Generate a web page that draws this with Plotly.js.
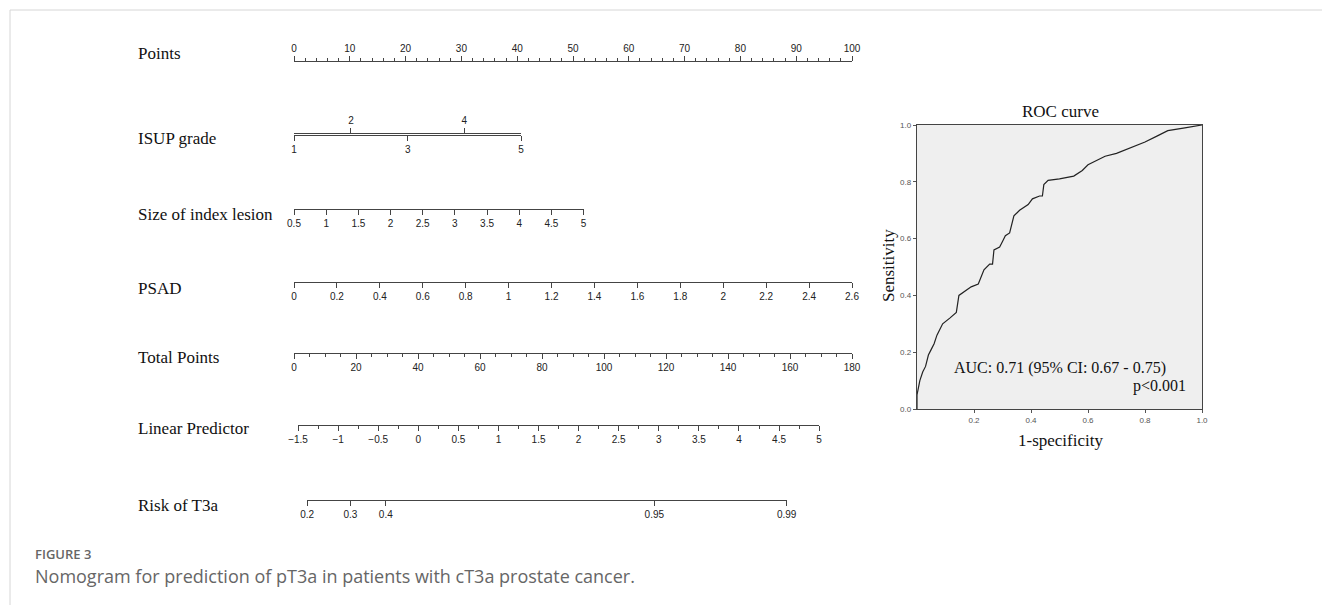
<!DOCTYPE html>
<html><head><meta charset="utf-8">
<script src="https://cdn.plot.ly/plotly-3.0.1.min.js"></script>
<style>html,body{margin:0;padding:0;background:#fff;}#chart{width:1322px;height:605px;}</style>
</head><body><div id="chart"></div>
<script>
// ---------------- data ----------------
const rowLabels = ["Points", "ISUP grade", "Size of index lesion", "PSAD", "Total Points", "Linear Predictor", "Risk of T3a"];
const pointsTicks = [0, 10, 20, 30, 40, 50, 60, 70, 80, 90, 100];
const isupGrades = [1, 2, 3, 4, 5];
const isupPoints = [0, 10.2, 20.4, 30.5, 40.7];
const sizeTicks = [0.5, 1, 1.5, 2, 2.5, 3, 3.5, 4, 4.5, 5];
const sizePointsRange = [0, 51.9];
const psadTicks = [0, 0.2, 0.4, 0.6, 0.8, 1, 1.2, 1.4, 1.6, 1.8, 2, 2.2, 2.4, 2.6];
const psadPointsRange = [0, 100];
const totalTicks = [0, 20, 40, 60, 80, 100, 120, 140, 160, 180];
const lpTicks = [-1.5, -1, -0.5, 0, 0.5, 1, 1.5, 2, 2.5, 3, 3.5, 4, 4.5, 5];
const lpTotalRange = [1.3, 169.4];   // total points at LP = -1.5 and LP = 5
const riskTicks = [0.2, 0.3, 0.4, 0.95, 0.99];
const rocFpr = [0, 0, 0.01, 0.02, 0.03, 0.04, 0.05, 0.06, 0.07, 0.085, 0.09, 0.115, 0.138, 0.147, 0.16, 0.19, 0.215, 0.235, 0.255, 0.265, 0.27, 0.29, 0.30, 0.31, 0.325, 0.34, 0.36, 0.39, 0.405, 0.43, 0.44, 0.445, 0.46, 0.50, 0.55, 0.58, 0.60, 0.62, 0.66, 0.70, 0.75, 0.80, 0.84, 0.88, 0.94, 1.0];
const rocTpr = [0, 0.05, 0.10, 0.13, 0.15, 0.19, 0.21, 0.23, 0.26, 0.29, 0.30, 0.32, 0.34, 0.40, 0.41, 0.43, 0.44, 0.49, 0.51, 0.51, 0.56, 0.57, 0.59, 0.61, 0.62, 0.68, 0.70, 0.72, 0.74, 0.75, 0.75, 0.79, 0.805, 0.81, 0.82, 0.84, 0.86, 0.87, 0.89, 0.90, 0.92, 0.94, 0.96, 0.98, 0.99, 1.0];
const rocTitle = "ROC curve";
const rocXTitle = "1-specificity";
const rocYTitle = "Sensitivity";
const aucText = "AUC: 0.71 (95% CI: 0.67 - 0.75)";
const pText = "p<0.001";
const figLabel = "FIGURE 3";
const figCaption = "Nomogram for prediction of pT3a in patients with cT3a prostate cancer.";

// ---------------- layout helpers ----------------
const W = 1322, H = 605;
const fx = px => px / W;
const fy = py => 1 - py / H;
const P0 = 294, P100 = 852;
const ptPx = p => P0 + p * (P100 - P0) / 100;
const totMax = totalTicks[totalTicks.length - 1];
const totPx = t => P0 + t * (P100 - P0) / totMax;
const lpMin = lpTicks[0], lpMax = lpTicks[lpTicks.length - 1];
const lpPx = v => totPx(lpTotalRange[0] + (v - lpMin) / (lpMax - lpMin) * (lpTotalRange[1] - lpTotalRange[0]));
const logit = p => Math.log(p / (1 - p));
const fmtMinus = v => (v < 0 ? "\u2212" + String(-v) : String(v));

const rowLineY = [62, 135, 209, 282, 353, 425, 500];
const rowLabelY = [54, 139, 215, 288, 357, 428, 505];
const EPS = 0.001;

const axCommon = {
  showline: true, linecolor: '#444', linewidth: 1,
  ticks: 'outside', ticklen: 5, tickwidth: 1, tickcolor: '#444',
  showgrid: false, zeroline: false, fixedrange: true, tickmode: 'array',
  tickfont: {family: 'Liberation Sans, Arial, sans-serif', size: 10, color: '#222'}
};
const yHidden = (py, top) => ({
  domain: top ? [fy(py) - EPS, fy(py)] : [fy(py), fy(py) + EPS],
  range: [0, 1], visible: false, fixedrange: true
});

const layout = {
  width: W, height: H,
  margin: {l: 0, r: 0, t: 0, b: 0},
  paper_bgcolor: '#fff', plot_bgcolor: 'rgba(0,0,0,0)',
  showlegend: false,
  font: {family: 'Liberation Sans, Arial, sans-serif'},
  xaxis: Object.assign({}, axCommon, {
    domain: [fx(ptPx(0)), fx(ptPx(100))], range: [0, 100], side: 'top', anchor: 'y',
    tickvals: pointsTicks, ticktext: pointsTicks.map(String),
    minor: {tickmode: 'linear', tick0: 0, dtick: 2, ticks: 'outside', ticklen: 3, tickcolor: '#444', showgrid: false}
  }),
  yaxis: yHidden(rowLineY[0], true),
  xaxis2: Object.assign({}, axCommon, {
    domain: [fx(ptPx(isupPoints[0])), fx(ptPx(isupPoints[isupPoints.length - 1]))],
    range: [isupPoints[0], isupPoints[isupPoints.length - 1]], side: 'bottom', anchor: 'y2',
    tickvals: isupPoints.filter((v, i) => i % 2 === 0),
    ticktext: isupGrades.filter((v, i) => i % 2 === 0).map(String)
  }),
  xaxis3: Object.assign({}, axCommon, {
    overlaying: 'x2', anchor: 'y2', side: 'top',
    range: [isupPoints[0], isupPoints[isupPoints.length - 1]],
    tickvals: isupPoints.filter((v, i) => i % 2 === 1),
    ticktext: isupGrades.filter((v, i) => i % 2 === 1).map(String)
  }),
  yaxis2: yHidden(rowLineY[1], false),
  xaxis4: Object.assign({}, axCommon, {
    domain: [fx(ptPx(sizePointsRange[0])), fx(ptPx(sizePointsRange[1]))],
    range: [sizeTicks[0], sizeTicks[sizeTicks.length - 1]], anchor: 'y3',
    tickvals: sizeTicks, ticktext: sizeTicks.map(String)
  }),
  yaxis3: yHidden(rowLineY[2], false),
  xaxis5: Object.assign({}, axCommon, {
    domain: [fx(ptPx(psadPointsRange[0])), fx(ptPx(psadPointsRange[1]))],
    range: [psadTicks[0], psadTicks[psadTicks.length - 1]], anchor: 'y4',
    tickvals: psadTicks, ticktext: psadTicks.map(String)
  }),
  yaxis4: yHidden(rowLineY[3], false),
  xaxis6: Object.assign({}, axCommon, {
    domain: [fx(totPx(0)), fx(totPx(totMax))], range: [0, totMax], anchor: 'y5',
    tickvals: totalTicks, ticktext: totalTicks.map(String),
    minor: {tickmode: 'linear', tick0: 0, dtick: 5, ticks: 'outside', ticklen: 3, tickcolor: '#444', showgrid: false}
  }),
  yaxis5: yHidden(rowLineY[4], false),
  xaxis7: Object.assign({}, axCommon, {
    domain: [fx(lpPx(lpMin)), fx(lpPx(lpMax))], range: [lpMin, lpMax], anchor: 'y6',
    tickvals: lpTicks, ticktext: lpTicks.map(fmtMinus),
    minor: {tickmode: 'linear', tick0: lpMin, dtick: 0.25, ticks: 'outside', ticklen: 3, tickcolor: '#444', showgrid: false}
  }),
  yaxis6: yHidden(rowLineY[5], false),
  xaxis8: Object.assign({}, axCommon, {
    domain: [fx(lpPx(logit(riskTicks[0]))), fx(lpPx(logit(riskTicks[riskTicks.length - 1])))],
    range: [logit(riskTicks[0]), logit(riskTicks[riskTicks.length - 1])], anchor: 'y7',
    tickvals: riskTicks.map(logit), ticktext: riskTicks.map(String)
  }),
  yaxis7: yHidden(rowLineY[6], false),
  xaxis9: {
    domain: [fx(917), fx(1202)], range: [0, 1], anchor: 'y8',
    showline: true, mirror: true, linecolor: '#444', linewidth: 1.3,
    ticks: 'outside', ticklen: 3, tickcolor: '#555', tickmode: 'array',
    tickvals: [0.2, 0.4, 0.6, 0.8, 1.0], ticktext: ['0.2', '0.4', '0.6', '0.8', '1.0'],
    tickfont: {family: 'Liberation Sans, Arial, sans-serif', size: 8, color: '#555'},
    showgrid: false, zeroline: false, fixedrange: true
  },
  yaxis8: {
    domain: [fy(409), fy(125)], range: [0, 1], anchor: 'x9',
    showline: true, mirror: true, linecolor: '#444', linewidth: 1.3,
    ticks: 'outside', ticklen: 3, tickcolor: '#555', tickmode: 'array',
    tickvals: [0, 0.2, 0.4, 0.6, 0.8, 1.0], ticktext: ['0.0', '0.2', '0.4', '0.6', '0.8', '1.0'],
    tickfont: {family: 'Liberation Sans, Arial, sans-serif', size: 8, color: '#555'},
    showgrid: false, zeroline: false, fixedrange: true
  },
  shapes: [
    {type: 'rect', xref: 'x9', yref: 'y8', x0: 0, x1: 1, y0: 0, y1: 1, fillcolor: '#efefef', line: {width: 0}, layer: 'below'},
    {type: 'line', xref: 'paper', yref: 'paper', x0: fx(10), x1: 1.01, y0: fy(10), y1: fy(10), line: {color: '#d6d6d6', width: 1}},
    {type: 'line', xref: 'paper', yref: 'paper', x0: fx(10), x1: fx(10), y0: fy(10), y1: -0.01, line: {color: '#d6d6d6', width: 1}}
  ],
  annotations: []
};

rowLabels.forEach((t, i) => {
  layout.annotations.push({
    text: t, xref: 'paper', yref: 'paper', x: fx(136), y: fy(rowLabelY[i]),
    xanchor: 'left', yanchor: 'middle', showarrow: false,
    font: {family: 'Liberation Serif, Times New Roman, serif', size: 17, color: '#111'}
  });
});
const serif = (size) => ({family: 'Liberation Serif, Times New Roman, serif', size: size, color: '#111'});
layout.annotations.push(
  {text: rocTitle, xref: 'paper', yref: 'paper', x: fx(1060), y: fy(111), xanchor: 'center', yanchor: 'middle', showarrow: false, font: serif(17)},
  {text: rocXTitle, xref: 'paper', yref: 'paper', x: fx(1060), y: fy(440), xanchor: 'center', yanchor: 'middle', showarrow: false, font: serif(17)},
  {text: rocYTitle, xref: 'paper', yref: 'paper', x: fx(888), y: fy(266), xanchor: 'center', yanchor: 'middle', textangle: -90, showarrow: false, font: serif(17)},
  {text: aucText, xref: 'paper', yref: 'paper', x: fx(1060), y: fy(368), xanchor: 'center', yanchor: 'middle', showarrow: false, font: serif(16)},
  {text: pText, xref: 'paper', yref: 'paper', x: fx(1188), y: fy(386), xanchor: 'right', yanchor: 'middle', showarrow: false, font: serif(16)},
  {text: figLabel, xref: 'paper', yref: 'paper', x: fx(33), y: fy(554), xanchor: 'left', yanchor: 'middle', showarrow: false,
   font: {family: 'Open Sans, sans-serif', size: 13, color: '#666', weight: 600}},
  {text: figCaption, xref: 'paper', yref: 'paper', x: fx(33), y: fy(576), xanchor: 'left', yanchor: 'middle', showarrow: false,
   font: {family: 'Open Sans, sans-serif', size: 18, color: '#666'}}
);

const dummy = (xa, ya, x0) => ({type: 'scatter', mode: 'markers', x: [x0], y: [0.5], xaxis: xa, yaxis: ya,
  marker: {opacity: 0, size: 1}, hoverinfo: 'skip', showlegend: false});
const data = [
  dummy('x', 'y', 0), dummy('x2', 'y2', 0), dummy('x3', 'y2', 0), dummy('x4', 'y3', 1),
  dummy('x5', 'y4', 0), dummy('x6', 'y5', 0), dummy('x7', 'y6', 0), dummy('x8', 'y7', 0),
  {type: 'scatter', mode: 'lines', x: rocFpr, y: rocTpr, xaxis: 'x9', yaxis: 'y8',
   line: {color: '#222', width: 1.2, shape: 'linear'}, hoverinfo: 'skip', showlegend: false}
];

Plotly.newPlot('chart', data, layout, {staticPlot: true, displayModeBar: false});
</script>
</body></html>
